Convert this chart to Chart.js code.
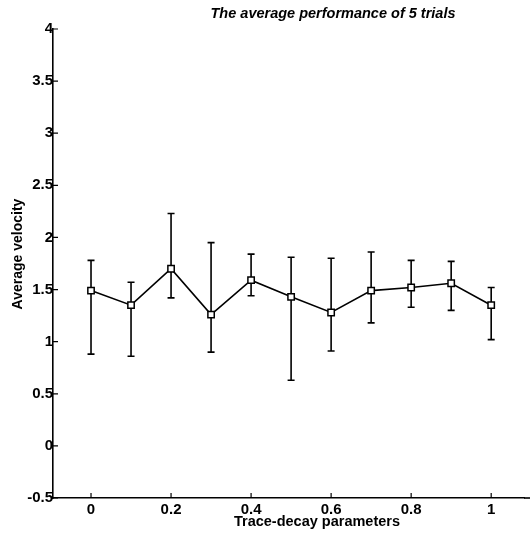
<!DOCTYPE html>
<html>
<head>
<meta charset="utf-8">
<script src="https://cdn.jsdelivr.net/npm/chart.js@4/dist/chart.umd.min.js"></script>
<style>
  html, body { margin: 0; padding: 0; background: #fff; }
  #wrap { width: 530px; height: 534px; }
</style>
</head>
<body>
<div id="wrap"><canvas id="c" width="530" height="534"></canvas></div>
<script>
const lambdas = [0, 0.1, 0.2, 0.3, 0.4, 0.5, 0.6, 0.7, 0.8, 0.9, 1.0];
const meanVel = [1.49, 1.35, 1.70, 1.26, 1.59, 1.43, 1.28, 1.49, 1.52, 1.56, 1.35];
const upperVel = [1.78, 1.57, 2.23, 1.95, 1.84, 1.81, 1.80, 1.86, 1.78, 1.77, 1.52];
const lowerVel = [0.88, 0.86, 1.42, 0.90, 1.44, 0.63, 0.91, 1.18, 1.33, 1.30, 1.02];

const xTickValues = [0, 0.2, 0.4, 0.6, 0.8, 1];
const yTickValues = [-0.5, 0, 0.5, 1, 1.5, 2, 2.5, 3, 3.5, 4];

const ink = "#000";
const face = "'Liberation Sans', Arial, sans-serif";

// vertical error bars with caps
const errorBars = {
  id: "errorBars",
  beforeDatasetsDraw(chart) {
    const { ctx, scales: { x, y } } = chart;
    ctx.save();
    ctx.strokeStyle = ink;
    ctx.lineWidth = 1.6;
    lambdas.forEach((l, i) => {
      const px = x.getPixelForValue(l);
      const top = y.getPixelForValue(upperVel[i]);
      const bot = y.getPixelForValue(lowerVel[i]);
      ctx.beginPath();
      ctx.moveTo(px, top); ctx.lineTo(px, bot);
      ctx.moveTo(px - 3.5, top); ctx.lineTo(px + 3.5, top);
      ctx.moveTo(px - 3.5, bot); ctx.lineTo(px + 3.5, bot);
      ctx.stroke();
    });
    ctx.restore();
  }
};

// inward ticks, title and axis labels
const decorations = {
  id: "decorations",
  afterDraw(chart) {
    const { ctx, chartArea: a, scales: { x, y } } = chart;
    ctx.save();
    ctx.strokeStyle = ink;
    ctx.lineWidth = 1.2;
    ctx.beginPath();
    x.ticks.forEach(t => {
      const px = x.getPixelForValue(t.value);
      ctx.moveTo(px, a.bottom); ctx.lineTo(px, a.bottom - 5);
    });
    y.ticks.forEach(t => {
      const py = y.getPixelForValue(t.value);
      ctx.moveTo(a.left, py); ctx.lineTo(a.left + 5, py);
    });
    ctx.stroke();

    // the axis runs off the right edge of the picture
    ctx.lineWidth = 1.6;
    ctx.beginPath();
    ctx.moveTo(a.right, a.bottom);
    ctx.lineTo(chart.width, a.bottom);
    ctx.stroke();

    ctx.fillStyle = ink;
    ctx.textAlign = "center";
    ctx.textBaseline = "middle";
    ctx.font = "italic bold 14.5px " + face;
    ctx.fillText("The average performance of 5 trials", 333, 14);

    ctx.font = "bold 14.5px " + face;
    ctx.fillText("Trace-decay parameters", 317, 522);

    ctx.translate(18, 254);
    ctx.rotate(-Math.PI / 2);
    ctx.font = "bold 14px " + face;
    ctx.fillText("Average velocity", 0, 0);
    ctx.restore();
  }
};

new Chart(document.getElementById("c"), {
  type: "line",
  data: {
    datasets: [{
      data: lambdas.map((l, i) => ({ x: l, y: meanVel[i] })),
      borderColor: ink,
      borderWidth: 1.6,
      tension: 0,
      pointStyle: "rect",
      pointRadius: 4.5,
      pointBackgroundColor: "#fff",
      pointBorderColor: ink,
      pointBorderWidth: 1.5
    }]
  },
  options: {
    responsive: false,
    animation: false,
    layout: { padding: { top: 29, right: 0, left: 0, bottom: 0 } },
    plugins: { legend: { display: false }, tooltip: { enabled: false }, title: { display: false } },
    scales: {
      x: {
        type: "linear",
        min: -0.095,
        max: 1.082,
        afterBuildTicks: s => { s.ticks = xTickValues.map(v => ({ value: v })); },
        afterFit: s => { s.height = 36; },
        grid: { display: false, drawTicks: false },
        border: { display: true, color: ink, width: 1.6 },
        ticks: {
          color: ink,
          padding: 3,
          maxRotation: 0,
          font: { family: face, size: 15, weight: "bold" },
          callback: v => String(v)
        }
      },
      y: {
        type: "linear",
        min: -0.5,
        max: 4,
        afterBuildTicks: s => { s.ticks = yTickValues.map(v => ({ value: v })); },
        afterFit: s => { s.width = 53; },
        grid: { display: false, drawTicks: false },
        border: { display: true, color: ink, width: 1.6 },
        ticks: {
          color: ink,
          padding: 0,
          font: { family: face, size: 15, weight: "bold" },
          callback: v => String(v)
        }
      }
    }
  },
  plugins: [errorBars, decorations]
});
</script>
</body>
</html>
